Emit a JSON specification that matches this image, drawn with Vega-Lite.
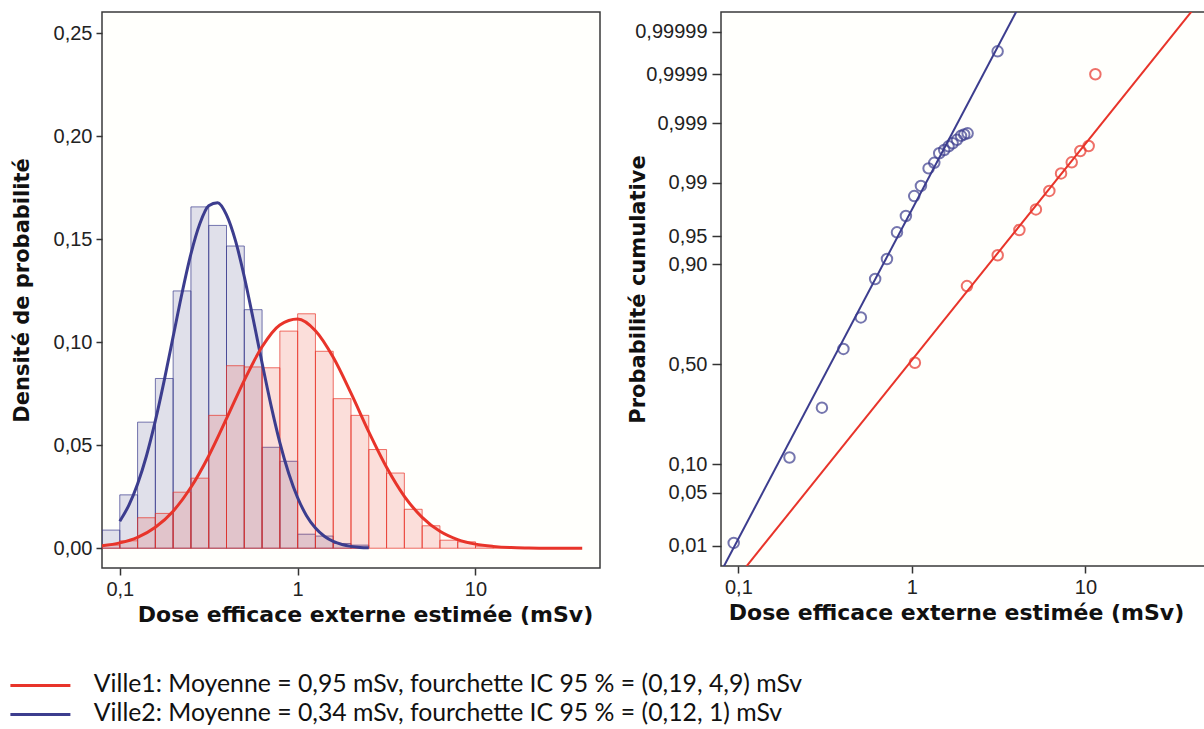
{
  "$schema": "https://vega.github.io/schema/vega-lite/v6.json",
  "background": "white",
  "padding": {"left": 10, "top": 11, "right": 0, "bottom": 0},
  "spacing": 121,
  "bounds": "flush",
  "resolve": {"legend": {"color": "independent"}},
  "config": {
    "view": {"stroke": "#3a3a3a", "strokeWidth": 1.5, "fill": "#fffffc"},
    "axis": {
      "grid": false, "domain": false, "tickColor": "#333333", "tickWidth": 1.5,
      "labelFont": "Liberation Sans", "labelFontSize": 20, "labelColor": "#222222",
      "titleFont": "DejaVu Sans", "titleFontWeight": "bold", "titleFontSize": 21, "titleColor": "#111111"
    }
  },
  "datasets": {
    "hist": [
      {"city": "Ville2", "x0": 0.07943, "x1": 0.1, "density": 0.0088},
      {"city": "Ville2", "x0": 0.1, "x1": 0.1259, "density": 0.0259},
      {"city": "Ville2", "x0": 0.1259, "x1": 0.1585, "density": 0.0612},
      {"city": "Ville2", "x0": 0.1585, "x1": 0.1995, "density": 0.0824},
      {"city": "Ville2", "x0": 0.1995, "x1": 0.2512, "density": 0.1249},
      {"city": "Ville2", "x0": 0.2512, "x1": 0.3162, "density": 0.1657},
      {"city": "Ville2", "x0": 0.3162, "x1": 0.3981, "density": 0.1567},
      {"city": "Ville2", "x0": 0.3981, "x1": 0.5012, "density": 0.1467},
      {"city": "Ville2", "x0": 0.5012, "x1": 0.631, "density": 0.1158},
      {"city": "Ville2", "x0": 0.631, "x1": 0.7943, "density": 0.049},
      {"city": "Ville2", "x0": 0.7943, "x1": 1, "density": 0.0422},
      {"city": "Ville2", "x0": 1, "x1": 1.259, "density": 0.0068},
      {"city": "Ville2", "x0": 1.259, "x1": 1.585, "density": 0.0059},
      {"city": "Ville2", "x0": 1.585, "x1": 1.995, "density": 0.0023},
      {"city": "Ville2", "x0": 1.995, "x1": 2.512, "density": 0.0015},
      {"city": "Ville1", "x0": 0.07943, "x1": 0.1, "density": 0.0015},
      {"city": "Ville1", "x0": 0.1, "x1": 0.1259, "density": 0.0036},
      {"city": "Ville1", "x0": 0.1259, "x1": 0.1585, "density": 0.0148},
      {"city": "Ville1", "x0": 0.1585, "x1": 0.1995, "density": 0.0169},
      {"city": "Ville1", "x0": 0.1995, "x1": 0.2512, "density": 0.0272},
      {"city": "Ville1", "x0": 0.2512, "x1": 0.3162, "density": 0.034},
      {"city": "Ville1", "x0": 0.3162, "x1": 0.3981, "density": 0.0645},
      {"city": "Ville1", "x0": 0.3981, "x1": 0.5012, "density": 0.0886},
      {"city": "Ville1", "x0": 0.5012, "x1": 0.631, "density": 0.088},
      {"city": "Ville1", "x0": 0.631, "x1": 0.7943, "density": 0.0876},
      {"city": "Ville1", "x0": 0.7943, "x1": 1, "density": 0.1054},
      {"city": "Ville1", "x0": 1, "x1": 1.259, "density": 0.1138},
      {"city": "Ville1", "x0": 1.259, "x1": 1.585, "density": 0.0956},
      {"city": "Ville1", "x0": 1.585, "x1": 1.995, "density": 0.0726},
      {"city": "Ville1", "x0": 1.995, "x1": 2.512, "density": 0.0645},
      {"city": "Ville1", "x0": 2.512, "x1": 3.162, "density": 0.0479},
      {"city": "Ville1", "x0": 3.162, "x1": 3.981, "density": 0.0365},
      {"city": "Ville1", "x0": 3.981, "x1": 5.012, "density": 0.0189},
      {"city": "Ville1", "x0": 5.012, "x1": 6.31, "density": 0.0109},
      {"city": "Ville1", "x0": 6.31, "x1": 7.943, "density": 0.0039},
      {"city": "Ville1", "x0": 7.943, "x1": 10, "density": 0.0031},
      {"city": "Ville1", "x0": 10, "x1": 12.59, "density": 0.001},
      {"city": "Ville1", "x0": 12.59, "x1": 15.85, "density": 0.0005}
    ],
    "curves": [
      {"city": "Ville2", "dose": 0.1, "density": 0.0131},
      {"city": "Ville2", "dose": 0.1122, "density": 0.0207},
      {"city": "Ville2", "dose": 0.1259, "density": 0.0312},
      {"city": "Ville2", "dose": 0.1413, "density": 0.0449},
      {"city": "Ville2", "dose": 0.1585, "density": 0.0619},
      {"city": "Ville2", "dose": 0.1778, "density": 0.0815},
      {"city": "Ville2", "dose": 0.1995, "density": 0.1027},
      {"city": "Ville2", "dose": 0.2239, "density": 0.1239},
      {"city": "Ville2", "dose": 0.2512, "density": 0.1429},
      {"city": "Ville2", "dose": 0.2818, "density": 0.1575},
      {"city": "Ville2", "dose": 0.3162, "density": 0.1662},
      {"city": "Ville2", "dose": 0.3548, "density": 0.1677},
      {"city": "Ville2", "dose": 0.3981, "density": 0.1618},
      {"city": "Ville2", "dose": 0.4467, "density": 0.1494},
      {"city": "Ville2", "dose": 0.5012, "density": 0.1318},
      {"city": "Ville2", "dose": 0.5623, "density": 0.1113},
      {"city": "Ville2", "dose": 0.631, "density": 0.0899},
      {"city": "Ville2", "dose": 0.7079, "density": 0.0695},
      {"city": "Ville2", "dose": 0.7943, "density": 0.0513},
      {"city": "Ville2", "dose": 0.8913, "density": 0.0363},
      {"city": "Ville2", "dose": 1, "density": 0.0245},
      {"city": "Ville2", "dose": 1.122, "density": 0.0158},
      {"city": "Ville2", "dose": 1.259, "density": 0.0098},
      {"city": "Ville2", "dose": 1.413, "density": 0.0058},
      {"city": "Ville2", "dose": 1.585, "density": 0.0033},
      {"city": "Ville2", "dose": 1.778, "density": 0.0018},
      {"city": "Ville2", "dose": 1.995, "density": 0.0009},
      {"city": "Ville2", "dose": 2.239, "density": 0.0004},
      {"city": "Ville2", "dose": 2.512, "density": 0.0002},
      {"city": "Ville1", "dose": 0.07943, "density": 0.0012},
      {"city": "Ville1", "dose": 0.1, "density": 0.0026},
      {"city": "Ville1", "dose": 0.1259, "density": 0.0053},
      {"city": "Ville1", "dose": 0.1585, "density": 0.0102},
      {"city": "Ville1", "dose": 0.1995, "density": 0.018},
      {"city": "Ville1", "dose": 0.2512, "density": 0.0296},
      {"city": "Ville1", "dose": 0.3162, "density": 0.0448},
      {"city": "Ville1", "dose": 0.3981, "density": 0.0629},
      {"city": "Ville1", "dose": 0.5012, "density": 0.0815},
      {"city": "Ville1", "dose": 0.631, "density": 0.0978},
      {"city": "Ville1", "dose": 0.7943, "density": 0.1084},
      {"city": "Ville1", "dose": 1, "density": 0.1113},
      {"city": "Ville1", "dose": 1.259, "density": 0.1056},
      {"city": "Ville1", "dose": 1.585, "density": 0.0927},
      {"city": "Ville1", "dose": 1.995, "density": 0.0753},
      {"city": "Ville1", "dose": 2.512, "density": 0.0565},
      {"city": "Ville1", "dose": 3.162, "density": 0.0393},
      {"city": "Ville1", "dose": 3.981, "density": 0.0252},
      {"city": "Ville1", "dose": 5.012, "density": 0.015},
      {"city": "Ville1", "dose": 6.31, "density": 0.0082},
      {"city": "Ville1", "dose": 7.943, "density": 0.0042},
      {"city": "Ville1", "dose": 10, "density": 0.002},
      {"city": "Ville1", "dose": 12.59, "density": 0.0009},
      {"city": "Ville1", "dose": 15.85, "density": 0.0003},
      {"city": "Ville1", "dose": 19.95, "density": 0.0001},
      {"city": "Ville1", "dose": 25.12, "density": 0},
      {"city": "Ville1", "dose": 31.62, "density": 0},
      {"city": "Ville1", "dose": 39.81, "density": 0}
    ],
    "pts": [
      {"city": "Ville2", "dose": 0.094, "p": 0.011},
      {"city": "Ville2", "dose": 0.197, "p": 0.116},
      {"city": "Ville2", "dose": 0.303, "p": 0.289},
      {"city": "Ville2", "dose": 0.403, "p": 0.578},
      {"city": "Ville2", "dose": 0.508, "p": 0.726},
      {"city": "Ville2", "dose": 0.614, "p": 0.863},
      {"city": "Ville2", "dose": 0.718, "p": 0.9115},
      {"city": "Ville2", "dose": 0.82, "p": 0.9547},
      {"city": "Ville2", "dose": 0.923, "p": 0.9714},
      {"city": "Ville2", "dose": 1.031, "p": 0.9845},
      {"city": "Ville2", "dose": 1.127, "p": 0.9889},
      {"city": "Ville2", "dose": 1.247, "p": 0.994},
      {"city": "Ville2", "dose": 1.345, "p": 0.9951},
      {"city": "Ville2", "dose": 1.436, "p": 0.9966},
      {"city": "Ville2", "dose": 1.535, "p": 0.997},
      {"city": "Ville2", "dose": 1.626, "p": 0.9974},
      {"city": "Ville2", "dose": 1.716, "p": 0.9977},
      {"city": "Ville2", "dose": 1.817, "p": 0.998},
      {"city": "Ville2", "dose": 1.918, "p": 0.9983},
      {"city": "Ville2", "dose": 2.002, "p": 0.9984},
      {"city": "Ville2", "dose": 2.093, "p": 0.99847},
      {"city": "Ville2", "dose": 3.117, "p": 0.99997},
      {"city": "Ville1", "dose": 1.04, "p": 0.508},
      {"city": "Ville1", "dose": 2.075, "p": 0.842},
      {"city": "Ville1", "dose": 3.12, "p": 0.919},
      {"city": "Ville1", "dose": 4.16, "p": 0.9575},
      {"city": "Ville1", "dose": 5.18, "p": 0.9765},
      {"city": "Ville1", "dose": 6.19, "p": 0.9869},
      {"city": "Ville1", "dose": 7.23, "p": 0.9928},
      {"city": "Ville1", "dose": 8.33, "p": 0.9952},
      {"city": "Ville1", "dose": 9.34, "p": 0.99688},
      {"city": "Ville1", "dose": 10.43, "p": 0.99744},
      {"city": "Ville1", "dose": 11.4, "p": 0.9999}
    ],
    "fit": [
      {"city": "Ville2", "dose": 0.0757, "p": 0.003},
      {"city": "Ville2", "dose": 4.53, "p": 0.999999},
      {"city": "Ville1", "dose": 0.0977, "p": 0.003},
      {"city": "Ville1", "dose": 49.4, "p": 0.999999}
    ]
  },
  "hconcat": [
    {
      "width": 498,
      "height": 556,
      "layer": [
        {
          "data": {"name": "hist"},
          "mark": {"type": "bar", "fillOpacity": 0.16, "strokeWidth": 1, "strokeOpacity": 0.7, "clip": true},
          "encoding": {
            "x": {
              "field": "x0", "type": "quantitative",
              "scale": {"type": "log", "domain": [0.07943, 50.12], "nice": false},
              "axis": {
                "values": [0.1, 1, 10], "tickSize": 7, "labelPadding": 4,
                "labelExpr": "datum.value < 1 ? '0,1' : format(datum.value, 'd')",
                "title": "Dose efficace externe estimée (mSv)", "titleFontSize": 22,
                "titleX": 263, "titleAlign": "center", "titlePadding": 5
              }
            },
            "x2": {"field": "x1"},
            "y": {
              "field": "density", "type": "quantitative",
              "scale": {"domain": [-0.0096, 0.2603], "nice": false, "zero": false},
              "axis": {
                "values": [0, 0.05, 0.1, 0.15, 0.2, 0.25], "tickSize": 6, "labelPadding": 4,
                "labelExpr": "replace(format(datum.value, '.2f'), '.', ',')",
                "title": "Densité de probabilité", "titlePadding": 21
              }
            },
            "y2": {"datum": 0},
            "fill": {"field": "city", "type": "nominal", "scale": {"domain": ["Ville1", "Ville2"], "range": ["#e8342a", "#3c3d8e"]}, "legend": null},
            "stroke": {"field": "city", "type": "nominal", "scale": {"domain": ["Ville1", "Ville2"], "range": ["#e8342a", "#3c3d8e"]}, "legend": null}
          }
        },
        {
          "data": {"name": "curves"},
          "mark": {"type": "line", "strokeWidth": 3, "interpolate": "monotone", "clip": true},
          "encoding": {
            "x": {"field": "dose", "type": "quantitative"},
            "y": {"field": "density", "type": "quantitative"},
            "color": {
              "field": "city", "type": "nominal",
              "scale": {"domain": ["Ville1", "Ville2"], "range": ["#e8342a", "#3c3d8e"]},
              "legend": {
                "orient": "none", "legendX": -74, "legendY": 661, "direction": "vertical", "padding": 0,
                "title": null, "symbolType": "M-3,0L3,0", "symbolSize": 400, "symbolStrokeWidth": 3,
                "labelFont": "Lato", "labelFontSize": 24.8, "labelColor": "#111111",
                "labelLimit": 1200, "labelOffset": 41, "rowPadding": 3,
                "labelExpr": "datum.label == 'Ville1' ? 'Ville1: Moyenne = 0,95 mSv, fourchette IC 95 % = (0,19, 4,9) mSv' : 'Ville2: Moyenne = 0,34 mSv, fourchette IC 95 % = (0,12, 1) mSv'"
              }
            }
          }
        }
      ]
    },
    {
      "width": 486,
      "height": 554,
      "layer": [
        {
          "data": {"name": "fit"},
          "transform": [{"calculate": "quantileNormal(datum.p)", "as": "z"}],
          "mark": {"type": "line", "strokeWidth": 2, "clip": true},
          "encoding": {
            "x": {
              "field": "dose", "type": "quantitative",
              "scale": {"type": "log", "domain": [0.07943, 50.12], "nice": false},
              "axis": {
                "values": [0.1, 1, 10], "tickSize": 7, "labelPadding": 4,
                "labelExpr": "datum.value < 1 ? '0,1' : format(datum.value, 'd')",
                "title": "Dose efficace externe estimée (mSv)", "titleFontSize": 22,
                "titleX": 235, "titleAlign": "center", "titlePadding": 5
              }
            },
            "y": {
              "field": "z", "type": "quantitative",
              "scale": {"domain": [-2.586, 4.517], "nice": false, "zero": false},
              "axis": {
                "values": [-2.3263, -1.6449, -1.2816, 0, 1.2816, 1.6449, 2.3263, 3.0902, 3.719, 4.2649],
                "tickSize": 9, "labelPadding": 5,
                "labelExpr": "datum.value > 4 ? '0,99999' : datum.value > 3.5 ? '0,9999' : datum.value > 3 ? '0,999' : datum.value > 2 ? '0,99' : datum.value > 1.5 ? '0,95' : datum.value > 1 ? '0,90' : datum.value > -0.5 ? '0,50' : datum.value > -1.5 ? '0,10' : datum.value > -2 ? '0,05' : '0,01'",
                "title": "Probabilité cumulative", "titlePadding": -14
              }
            },
            "color": {"field": "city", "type": "nominal", "scale": {"domain": ["Ville1", "Ville2"], "range": ["#e8342a", "#3c3d8e"]}, "legend": null}
          }
        },
        {
          "data": {"name": "pts"},
          "transform": [{"calculate": "quantileNormal(datum.p)", "as": "z"}],
          "mark": {"type": "point", "filled": false, "size": 110, "strokeWidth": 2, "clip": true},
          "encoding": {
            "x": {"field": "dose", "type": "quantitative"},
            "y": {"field": "z", "type": "quantitative"},
            "color": {"field": "city", "type": "nominal", "scale": {"domain": ["Ville1", "Ville2"], "range": ["#e8342a", "#3c3d8e"]}, "legend": null}
          }
        }
      ]
    }
  ]
}
